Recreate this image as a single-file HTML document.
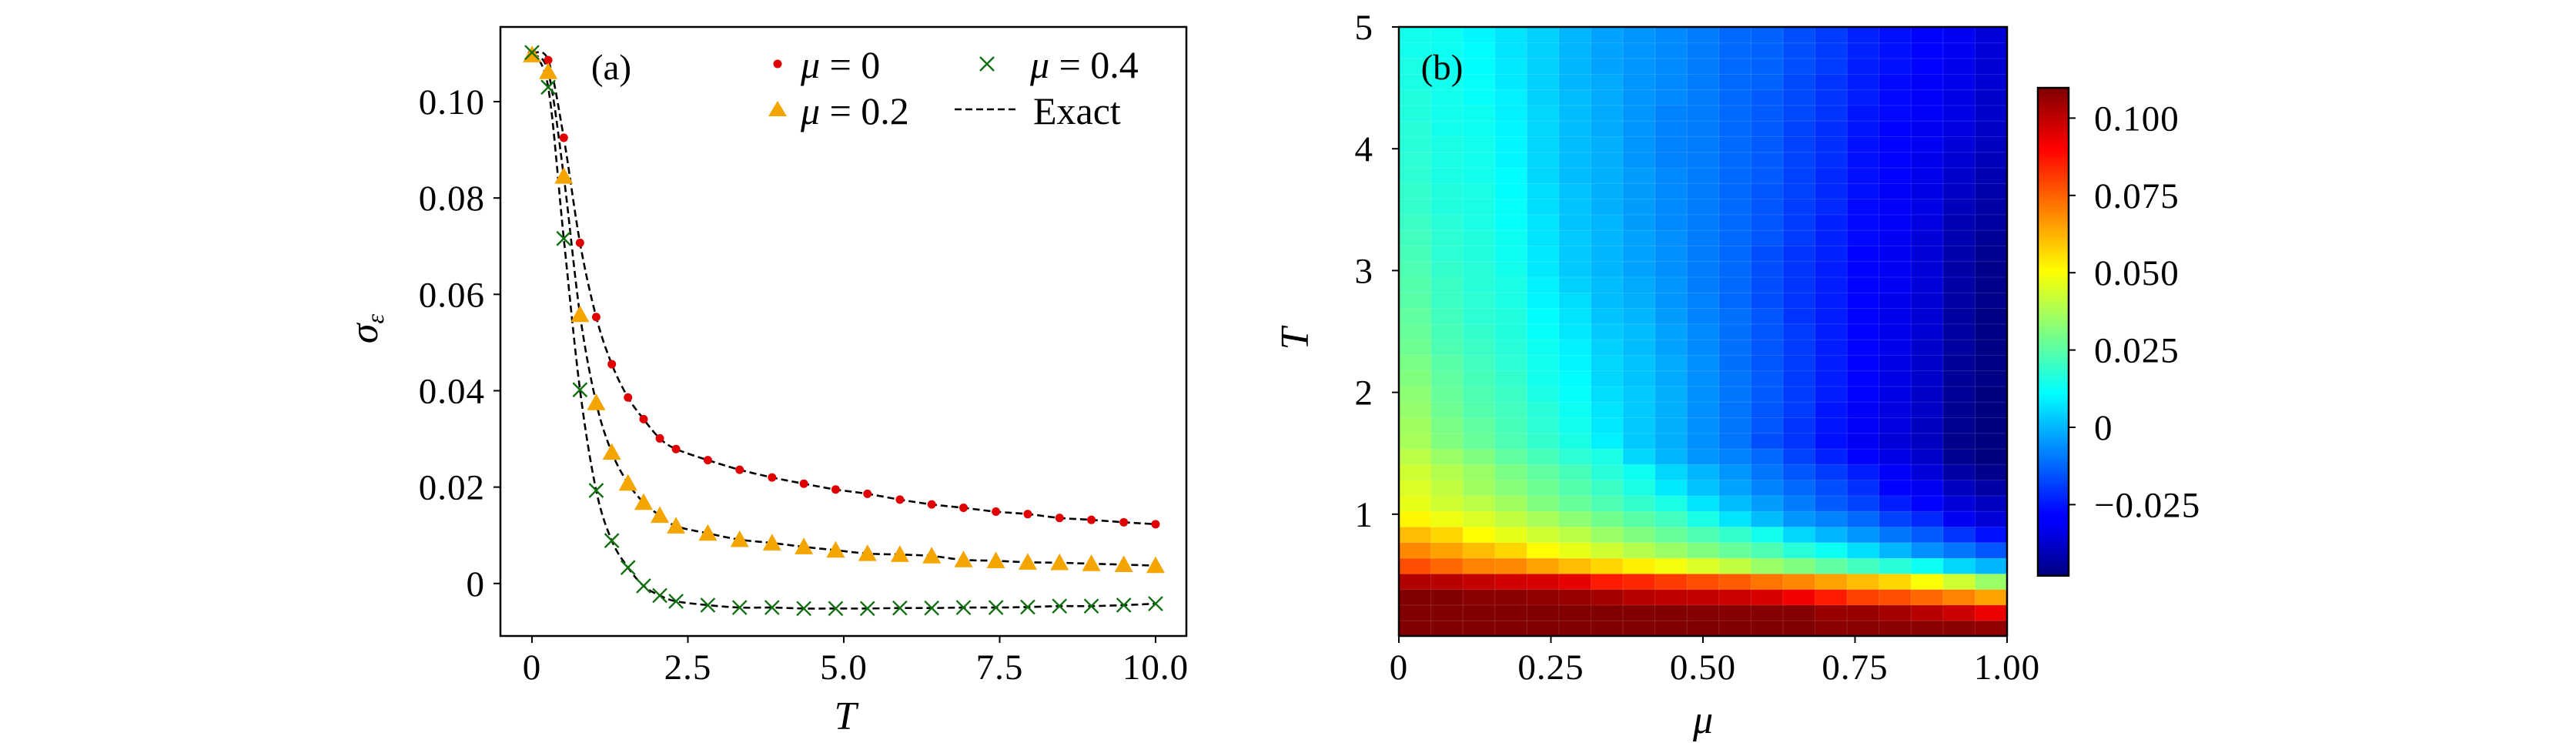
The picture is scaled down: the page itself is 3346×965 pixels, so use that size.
<!DOCTYPE html>
<html><head><meta charset="utf-8">
<style>
html,body{margin:0;padding:0;background:#fff;}
svg{display:block;font-family:"Liberation Serif",serif;}
</style></head>
<body>
<svg id="fig" width="3346" height="965" viewBox="0 0 3346 965" xmlns="http://www.w3.org/2000/svg">
<defs>
<linearGradient id="jetgrad" x1="0" y1="1" x2="0" y2="0">
<stop offset="0" stop-color="#000080"/><stop offset="0.11" stop-color="#0000ff"/><stop offset="0.125" stop-color="#0000ff"/>
<stop offset="0.375" stop-color="#00ffff"/><stop offset="0.625" stop-color="#ffff00"/><stop offset="0.875" stop-color="#ff0000"/><stop offset="1" stop-color="#800000"/>
</linearGradient>
</defs>
<g id="panelA"></g>
<g id="panelB"></g>
</svg>
<script>
// ---------- Panel (a) data ----------
const tValues = [0.0,0.26,0.51,0.77,1.03,1.28,1.54,1.79,2.05,2.31,2.82,3.33,3.85,4.36,4.87,5.38,5.90,6.41,6.92,7.44,7.95,8.46,8.97,9.49,10.0];
const sigmaMu0 = [0.110,0.1086,0.0925,0.0707,0.0553,0.0455,0.0386,0.0341,0.0301,0.0279,0.0256,0.0236,0.0220,0.0207,0.0195,0.0186,0.0174,0.0164,0.0157,0.0149,0.0144,0.0136,0.0132,0.0127,0.0123];
const sigmaMu02 = [0.1097,0.1062,0.0845,0.0558,0.0375,0.0272,0.0208,0.0168,0.0141,0.0119,0.0104,0.0091,0.0084,0.0076,0.0069,0.0062,0.0060,0.0057,0.0049,0.0047,0.0044,0.0043,0.0041,0.0039,0.0037];
const sigmaMu04 = [0.1102,0.1030,0.0716,0.0402,0.0193,0.0089,0.0033,-0.0005,-0.0025,-0.0037,-0.0045,-0.0050,-0.0050,-0.0052,-0.0052,-0.0052,-0.0051,-0.0051,-0.0050,-0.0050,-0.0049,-0.0047,-0.0047,-0.0045,-0.0042];
const xTicksA = [0,2.5,5,7.5,10];
const xTickLabelsA = ["0","2.5","5.0","7.5","10.0"];
const yTicksA = [0,0.02,0.04,0.06,0.08,0.10];
const yTickLabelsA = ["0","0.02","0.04","0.06","0.08","0.10"];

// ---------- Panel (b) data (sigma x 1000), rows from T≈0 (bottom) to T≈5 (top), columns mu 0..1 ----------
const muCategories = 19;
const heatRows = [
[110,110,110,110,110,110,110,110,110,110,110,110,110,108,108,108,108,108,107],
[110,110,110,110,110,110,110,110,110,109,109,109,109,106,106,104,101,98,93],
[110,110,108,108,107,106,104,101,100,99,98,96,92,86,80,78,74,70,65],
[102,101,99,97,96,94,86,84,81,78,76,72,69,65,61,57,50,43,35],
[78,74,70,69,65,61,57,53,49,45,41,35,31,26,21,17,13,5,0],
[69,65,61,57,51,47,43,39,35,31,27,23,17,13,6,0,-6,-10,-15],
[61,57,51,47,43,40,35,31,27,23,19,14,5,0,-5,-10,-14,-20,-26],
[52,48,45,41,37,33,29,25,21,15,7,1,-5,-8,-12,-18,-22,-30,-34],
[47,43,40,36,31,27,23,19,15,7,1,-4,-9,-14,-18,-24,-28,-34,-38],
[45,41,36,32,28,24,20,15,8,2,-3,-8,-12,-16,-21,-28,-30,-38,-42],
[43,39,35,30,26,22,17,13,5,0,-5,-10,-15,-19,-24,-29,-34,-42,-46],
[40,35,31,26,22,18,15,5,0,-5,-8,-12,-18,-23,-28,-32,-36,-45,-48],
[37,31,27,23,19,15,9,3,-1,-6,-10,-16,-20,-26,-30,-34,-38,-46,-48],
[36,30,26,22,18,14,8,3,-1,-6,-10,-15,-20,-25,-29,-33,-38,-45,-48],
[34,28,24,21,17,13,7,3,-1,-6,-10,-15,-19,-25,-29,-33,-37,-45,-48],
[33,27,23,20,15,12,6,3,-1,-6,-10,-14,-19,-24,-28,-32,-37,-44,-48],
[31,26,22,19,14,11,5,2,-2,-6,-10,-14,-19,-24,-28,-32,-36,-44,-47],
[30,25,21,18,14,10,5,2,-2,-6,-11,-15,-19,-24,-28,-32,-36,-44,-47],
[28,23,20,17,13,9,4,1,-3,-7,-11,-15,-19,-24,-28,-31,-36,-43,-47],
[27,22,19,16,12,8,3,1,-3,-7,-11,-15,-19,-24,-28,-31,-35,-43,-47],
[26,21,18,16,11,7,2,0,-4,-8,-11,-15,-20,-24,-28,-31,-35,-43,-47],
[25,20,18,15,10,6,1,-1,-5,-8,-12,-16,-20,-24,-28,-31,-35,-42,-46],
[24,20,17,15,9,4,1,-2,-5,-9,-12,-16,-20,-24,-28,-30,-34,-42,-46],
[23,19,17,14,8,3,0,-3,-6,-9,-12,-16,-20,-24,-28,-30,-34,-42,-46],
[22,18,16,13,8,3,0,-3,-6,-9,-12,-16,-20,-23,-28,-30,-34,-41,-45],
[21,18,16,13,7,3,0,-3,-6,-9,-12,-15,-19,-23,-27,-30,-34,-40,-44],
[20,17,15,12,7,2,0,-4,-7,-9,-12,-15,-19,-23,-27,-29,-33,-40,-43],
[19,16,15,12,6,2,-1,-4,-7,-9,-12,-15,-19,-22,-27,-29,-32,-39,-42],
[19,16,15,11,6,2,-1,-4,-7,-9,-12,-15,-18,-22,-26,-29,-32,-37,-41],
[18,15,14,11,5,1,-1,-4,-7,-9,-12,-14,-18,-22,-26,-28,-31,-36,-40],
[18,15,14,10,5,1,-1,-5,-8,-9,-12,-14,-18,-21,-26,-28,-31,-35,-39],
[17,15,14,10,5,1,-1,-5,-8,-9,-12,-14,-18,-21,-26,-28,-30,-34,-38],
[17,14,13,10,5,1,-2,-5,-8,-9,-12,-14,-18,-21,-25,-28,-30,-33,-37],
[16,14,13,9,5,1,-2,-5,-8,-9,-12,-14,-17,-20,-25,-27,-29,-32,-36],
[16,14,12,9,4,1,-2,-5,-7,-9,-12,-14,-17,-20,-24,-27,-29,-32,-36],
[15,14,12,8,4,0,-2,-5,-7,-9,-12,-13,-17,-20,-24,-27,-29,-31,-35],
[15,13,11,8,4,0,-3,-5,-7,-9,-12,-13,-16,-19,-24,-26,-28,-31,-35],
[14,13,11,7,4,0,-3,-5,-7,-9,-12,-13,-16,-19,-23,-26,-28,-30,-34],
[14,13,10,7,4,0,-3,-5,-7,-9,-12,-13,-16,-19,-23,-26,-28,-30,-34]
];
const xTicksB = [0,0.25,0.5,0.75,1];
const xTickLabelsB = ["0","0.25","0.50","0.75","1.00"];
const yTicksB = [1,2,3,4,5];
const cbTicks = [0.100,0.075,0.050,0.025,0,-0.025];
const cbTickLabels = ["0.100","0.075","0.050","0.025","0","\u22120.025"];

const NS="http://www.w3.org/2000/svg";
const FS=47;
function mk(parent,tag,attrs,text){const e=document.createElementNS(NS,tag);for(const k in attrs)e.setAttribute(k,attrs[k]);if(text!==undefined)e.textContent=text;parent.appendChild(e);return e;}

// ---------- Panel (a) ----------
const A=document.getElementById('panelA');
const ax={l:650,r:1541,t:35,b:826,x0:-0.506,x1:10.494,y0:-0.0109,y1:0.1155};
const xA=v=>ax.l+(v-ax.x0)/(ax.x1-ax.x0)*(ax.r-ax.l);
const yA=v=>ax.b-(v-ax.y0)/(ax.y1-ax.y0)*(ax.b-ax.t);

function smoothPath(xs,ys){
  const p=xs.map((x,i)=>[xA(x),yA(ys[i])]);
  let d=`M${p[0][0]},${p[0][1]}`;
  for(let i=0;i<p.length-1;i++){
    const p0=p[Math.max(0,i-1)],p1=p[i],p2=p[i+1],p3=p[Math.min(p.length-1,i+2)];
    const c1=[p1[0]+(p2[0]-p0[0])/6,p1[1]+(p2[1]-p0[1])/6];
    const c2=[p2[0]-(p3[0]-p1[0])/6,p2[1]-(p3[1]-p1[1])/6];
    d+=` C${c1[0]},${c1[1]} ${c2[0]},${c2[1]} ${p2[0]},${p2[1]}`;
  }
  return d;
}
const curves=[sigmaMu0,sigmaMu02,sigmaMu04];
const curveNames=['exact-curve-mu-0','exact-curve-mu-0-2','exact-curve-mu-0-4'];
curves.forEach((s,i)=>{
  const p=mk(A,'path',{d:smoothPath(tValues,s),fill:'none',stroke:'#000','stroke-width':2.6,'stroke-dasharray':'9,5'});
  
  
});
tValues.forEach((t,i)=>{
  const cx=xA(t),cy=yA(sigmaMu0[i]);
  const c=mk(A,'circle',{cx:cx,cy:cy,r:5.5,fill:'#e00000'});
  
  
});
tValues.forEach((t,i)=>{
  const cx=xA(t),cy=yA(sigmaMu02[i]),s=12;
  const tr=mk(A,'polygon',{points:`${cx},${cy-s} ${cx-s},${cy+s*0.8} ${cx+s},${cy+s*0.8}`,fill:'#f5a500'});
  
  
});
tValues.forEach((t,i)=>{
  const cx=xA(t),cy=yA(sigmaMu04[i]),s=9;
  const g=mk(A,'path',{d:`M${cx-s},${cy-s}L${cx+s},${cy+s}M${cx-s},${cy+s}L${cx+s},${cy-s}`,stroke:'#107010','stroke-width':2.4,fill:'none'});
  
  
});
const fa=mk(A,'rect',{x:ax.l,y:ax.t,width:ax.r-ax.l,height:ax.b-ax.t,fill:'none',stroke:'#000','stroke-width':2.5});


xTicksA.forEach((v,i)=>{
  const x=xA(v);
  mk(A,'line',{x1:x,y1:ax.b,x2:x,y2:ax.b+9,stroke:'#000','stroke-width':2});
  const t=mk(A,'text',{x:x,y:882,'font-size':FS,'letter-spacing':1,'text-anchor':'middle'},xTickLabelsA[i]);
  
  
});
yTicksA.forEach((v,i)=>{
  const y=yA(v);
  mk(A,'line',{x1:ax.l-9,y1:y,x2:ax.l,y2:y,stroke:'#000','stroke-width':2});
  const t=mk(A,'text',{x:630,y:y+16,'font-size':FS,'letter-spacing':1,'text-anchor':'end'},yTickLabelsA[i]);
  
  
});
{
  let t=mk(A,'text',{x:1098,y:947,'font-size':52,'font-style':'italic','text-anchor':'middle'},'T');
   
  t=mk(A,'text',{transform:'translate(490,427) rotate(-90)','font-size':52,'font-style':'italic','text-anchor':'middle'});
   
  mk(t,'tspan',{},'σ'); mk(t,'tspan',{'font-size':32,dy:8},'ε');
  t=mk(A,'text',{x:794,y:103,'font-size':FS,'text-anchor':'middle'},'(a)');
   
  const L=mk(A,'g',{});
   
  mk(L,'circle',{cx:1010,cy:83,r:5.5,fill:'#e00000'});
  let e=mk(L,'text',{x:1040,y:101,'font-size':50},''); mk(e,'tspan',{'font-style':'italic'},'μ'); mk(e,'tspan',{},' = 0');
   
  mk(L,'path',{d:'M1273,74L1291,92M1273,92L1291,74',stroke:'#107010','stroke-width':2.4});
  e=mk(L,'text',{x:1338,y:101,'font-size':50},''); mk(e,'tspan',{'font-style':'italic'},'μ'); mk(e,'tspan',{},' = 0.4');
   
  mk(L,'polygon',{points:'1010,131 998,151 1022,151',fill:'#f5a500'});
  e=mk(L,'text',{x:1040,y:161,'font-size':50},''); mk(e,'tspan',{'font-style':'italic'},'μ'); mk(e,'tspan',{},' = 0.2');
   
  mk(L,'line',{x1:1240,y1:142,x2:1322,y2:142,stroke:'#000','stroke-width':2.6,'stroke-dasharray':'9,5'});
  e=mk(L,'text',{x:1342,y:161,'font-size':50},'Exact');
   
}

// ---------- Panel (b) ----------
const B=document.getElementById('panelB');
const bx={l:1817,r:2607,t:35,b:826,x0:0,x1:1,y0:0,y1:5};
const vmin=-0.048,vmax=0.1098;
const xB=v=>bx.l+(v-bx.x0)/(bx.x1-bx.x0)*(bx.r-bx.l);
const yB=v=>bx.b-(v-bx.y0)/(bx.y1-bx.y0)*(bx.b-bx.t);
function jet(v){
  let t=(v-vmin)/(vmax-vmin); t=Math.max(0,Math.min(1,t));
  const c=x=>Math.round(255*Math.max(0,Math.min(1,x)));
  return `rgb(${c(1.5-Math.abs(4*t-3))},${c(1.5-Math.abs(4*t-2))},${c(1.5-Math.abs(4*t-1))})`;
}
const nRows=heatRows.length;
heatRows.forEach((row,ri)=>{
  const T0=bx.y0+ri*(bx.y1-bx.y0)/nRows,T1=bx.y0+(ri+1)*(bx.y1-bx.y0)/nRows;
  row.forEach((val,ci)=>{
    const m0=ci/muCategories,m1=(ci+1)/muCategories;
    const r=mk(B,'rect',{x:xB(m0),y:yB(T1),width:xB(m1)-xB(m0)+0.5,height:yB(T0)-yB(T1)+0.5,fill:jet(val/1000),stroke:'rgba(255,255,255,0.12)','stroke-width':1});
    
    
  });
});
const fb=mk(B,'rect',{x:bx.l,y:bx.t,width:bx.r-bx.l,height:bx.b-bx.t,fill:'none',stroke:'#000','stroke-width':2.5});


xTicksB.forEach((v,i)=>{
  const x=xB(v);
  mk(B,'line',{x1:x,y1:bx.b,x2:x,y2:bx.b+9,stroke:'#000','stroke-width':2});
  const t=mk(B,'text',{x:x,y:882,'font-size':FS,'letter-spacing':1,'text-anchor':'middle'},xTickLabelsB[i]);
  
  
});
yTicksB.forEach(v=>{
  const y=yB(v);
  mk(B,'line',{x1:bx.l-9,y1:y,x2:bx.l,y2:y,stroke:'#000','stroke-width':2});
  const t=mk(B,'text',{x:1783,y:y+16,'font-size':FS,'text-anchor':'end'},String(v));
  
  
});
{
  let t=mk(B,'text',{x:2212,y:952,'font-size':52,'font-style':'italic','text-anchor':'middle'},'μ');
   
  t=mk(B,'text',{transform:'translate(1699,440) rotate(-90)','font-size':52,'font-style':'italic','text-anchor':'middle'},'T');
   
  t=mk(B,'text',{x:1873,y:103,'font-size':FS,'text-anchor':'middle'},'(b)');
   
}
const cb={l:2647,r:2687};
const yC=v=>555-v*4016;
const cbr=mk(B,'rect',{x:cb.l,y:yC(vmax),width:cb.r-cb.l,height:yC(vmin)-yC(vmax),fill:'url(#jetgrad)',stroke:'#000','stroke-width':2.5});


cbTicks.forEach((v,i)=>{
  const y=yC(v);
  mk(B,'line',{x1:cb.r,y1:y,x2:cb.r+9,y2:y,stroke:'#000','stroke-width':2});
  const t=mk(B,'text',{x:2720,y:y+16,'font-size':FS,'letter-spacing':1},cbTickLabels[i]);
  
  
});
</script>
</body></html>
